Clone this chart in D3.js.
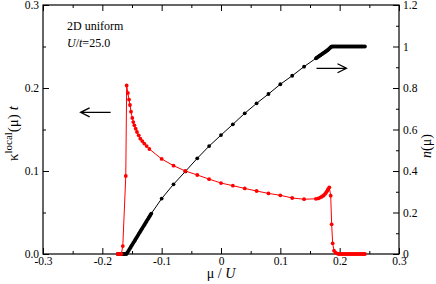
<!DOCTYPE html>
<html>
<head>
<meta charset="utf-8">
<script src="https://cdn.jsdelivr.net/npm/d3@7"></script>
<style>
    body { margin: 0; background: #fff; }
    #chart-area { width: 436px; height: 284px; }
    svg text { font-family: "Liberation Serif", "DejaVu Serif", serif; fill: #000; }
    .axis path { display: none; }
    .axis line { stroke: #000; }
</style>
</head>
<body>
<div id="chart-area"></div>
<script>

// local compressibility kappa(mu) t  (left axis)
const muKappa = [-0.174, -0.172, -0.170, -0.168, -0.1655, -0.1605, -0.159, -0.157, -0.155, -0.1534,
    -0.1517, -0.1495, -0.1478, -0.146, -0.1438, -0.1416, -0.1387, -0.136, -0.1327, -0.1293,
    -0.1253, -0.1208, -0.10, -0.08, -0.06, -0.04, -0.02, 0.0, 0.02, 0.04,
    0.06, 0.08, 0.10, 0.12, 0.14, 0.16, 0.164, 0.167, 0.1697, 0.172,
    0.1736, 0.1755, 0.177, 0.1785, 0.1798, 0.181, 0.1826, 0.1849, 0.1865, 0.1882,
    0.1905, 0.193, 0.196, 0.1985, 0.201, 0.2035, 0.206, 0.2085, 0.211, 0.2135,
    0.216, 0.2185, 0.221, 0.2235, 0.226, 0.2285, 0.231, 0.2335, 0.236, 0.2385,
    0.241, 0.2425];
const kappaVals = [0, 0, 0, 0, 0.0096, 0.094, 0.203, 0.194, 0.186, 0.1795,
    0.1715, 0.164, 0.159, 0.155, 0.151, 0.147, 0.143, 0.139, 0.136, 0.133,
    0.130, 0.1265, 0.1145, 0.1064, 0.100, 0.0952, 0.0902, 0.0855, 0.0823, 0.079,
    0.0759, 0.073, 0.0707, 0.0675, 0.066, 0.0665, 0.067, 0.068, 0.069, 0.070,
    0.071, 0.0725, 0.0739, 0.0755, 0.077, 0.0785, 0.0803, 0.0703, 0.0357, 0.0129,
    0.004, 0.0016, 0.0005, 0, 0, 0, 0, 0, 0, 0,
    0, 0, 0, 0, 0, 0, 0, 0, 0, 0,
    0, 0];

// density n(mu)  (right axis)
const muDensity = [-0.174, -0.172, -0.170, -0.168, -0.166, -0.164, -0.162,
    -0.1595, -0.158, -0.1565, -0.155, -0.1535, -0.152, -0.1505, -0.149, -0.1475, -0.146,
    -0.1445, -0.143, -0.1415, -0.140, -0.1385, -0.137, -0.1355, -0.134, -0.1325, -0.131,
    -0.1295, -0.128, -0.1265, -0.125, -0.1235, -0.122, -0.1205, -0.119, -0.1175,
    -0.10, -0.08, -0.06, -0.04, -0.02, 0.0, 0.02, 0.04, 0.06, 0.08, 0.10, 0.12, 0.14,
    0.16, 0.1615, 0.163, 0.1645, 0.166, 0.1675, 0.169, 0.1705, 0.172, 0.1735,
    0.175, 0.1765, 0.178, 0.1795, 0.181, 0.1825, 0.184, 0.1855, 0.187,
    0.1895, 0.192, 0.1945, 0.197, 0.1995, 0.202, 0.2045, 0.207, 0.2095, 0.212, 0.2145,
    0.217, 0.2195, 0.222, 0.2245, 0.227, 0.2295, 0.232, 0.2345, 0.237, 0.2395, 0.2425];
const densityVals = [0, 0, 0, 0, 0, 0, 0,
    0.000, 0.006, 0.013, 0.020, 0.027, 0.034, 0.041, 0.048, 0.055, 0.062,
    0.069, 0.076, 0.083, 0.090, 0.097, 0.104, 0.111, 0.118, 0.125, 0.132,
    0.139, 0.146, 0.153, 0.160, 0.167, 0.174, 0.181, 0.188, 0.195,
    0.267, 0.336, 0.398, 0.461, 0.520, 0.573, 0.625, 0.678, 0.726, 0.771, 0.818, 0.859, 0.903,
    0.943, 0.946, 0.949, 0.952, 0.955, 0.958, 0.961, 0.964, 0.967, 0.970,
    0.973, 0.976, 0.979, 0.982, 0.986, 0.990, 0.994, 0.998, 1.0,
    1.0, 1.0, 1.0, 1.0, 1.0, 1.0, 1.0, 1.0, 1.0, 1.0, 1.0,
    1.0, 1.0, 1.0, 1.0, 1.0, 1.0, 1.0, 1.0, 1.0, 1.0, 1.0];

const xTicks = [-0.3, -0.2, -0.1, 0, 0.1, 0.2, 0.3];
const xMinorTicks = [-0.25, -0.15, -0.05, 0.05, 0.15, 0.25];
const leftTicks = [0, 0.1, 0.2, 0.3];
const leftMinorTicks = [0.05, 0.15, 0.25];
const rightTicks = [0, 0.2, 0.4, 0.6, 0.8, 1, 1.2];
const rightMinorTicks = [0.1, 0.3, 0.5, 0.7, 0.9, 1.1];

const infoLines = ["2D uniform", "U/t=25.0"];
// arrows: [mu start, mu end, value on its axis]
const arrowLeft = [-0.186, -0.2366, 0.1707];
const arrowRight = [0.161, 0.2115, 0.895];


class LocalKappaVis {

    constructor(parentElement) {
        this.parentElement = parentElement;
        this.kappaData = muKappa.map((m, i) => ({mu: m, v: kappaVals[i]}));
        this.densityData = muDensity.map((m, i) => ({mu: m, v: densityVals[i]}));

        this.initVis();
    }

    initVis() {
        let vis = this;

        vis.margin = {top: 5, right: 37, bottom: 30, left: 43};
        vis.width = 436 - vis.margin.left - vis.margin.right;
        vis.height = 284 - vis.margin.top - vis.margin.bottom;

        vis.svg = d3.select("#" + vis.parentElement).append("svg")
            .attr("width", 436)
            .attr("height", 284)
            .append("g")
            .attr("transform", `translate(${vis.margin.left}, ${vis.margin.top})`);

        // Scales
        vis.x = d3.scaleLinear().domain([-0.3, 0.3]).range([0, vis.width]);
        vis.yLeft = d3.scaleLinear().domain([0, 0.3]).range([vis.height, 0]);
        vis.yRight = d3.scaleLinear().domain([0, 1.2]).range([vis.height, 0]);

        let fmt = d => String(+d.toFixed(1));

        // minor ticks
        vis.svg.append("g").attr("class", "axis")
            .attr("transform", `translate(0, ${vis.height})`)
            .call(d3.axisBottom(vis.x).tickValues(xMinorTicks).tickSize(-3).tickFormat(""));
        vis.svg.append("g").attr("class", "axis")
            .call(d3.axisTop(vis.x).tickValues(xMinorTicks).tickSize(-3).tickFormat(""));
        vis.svg.append("g").attr("class", "axis")
            .call(d3.axisLeft(vis.yLeft).tickValues(leftMinorTicks).tickSize(-3).tickFormat(""));
        vis.svg.append("g").attr("class", "axis")
            .attr("transform", `translate(${vis.width}, 0)`)
            .call(d3.axisRight(vis.yRight).tickValues(rightMinorTicks).tickSize(-3).tickFormat(""));

        // major ticks + labels
        vis.svg.append("g").attr("class", "axis x-axis")
            .attr("transform", `translate(0, ${vis.height})`)
            .call(d3.axisBottom(vis.x).tickValues(xTicks).tickSize(-6).tickPadding(3).tickFormat(fmt));
        vis.svg.append("g").attr("class", "axis")
            .call(d3.axisTop(vis.x).tickValues(xTicks).tickSize(-6).tickFormat(""));
        vis.svg.append("g").attr("class", "axis y-axis")
            .call(d3.axisLeft(vis.yLeft).tickValues(leftTicks).tickSize(-6).tickPadding(4)
                .tickFormat(d3.format(".1f")));
        vis.svg.append("g").attr("class", "axis y-axis2")
            .attr("transform", `translate(${vis.width}, 0)`)
            .call(d3.axisRight(vis.yRight).tickValues(rightTicks).tickSize(-6).tickPadding(4).tickFormat(fmt));

        vis.svg.selectAll(".axis text")
            .style("font-family", "'Liberation Serif', 'DejaVu Serif', serif")
            .style("font-size", "11.5px");

        // frame
        vis.svg.append("rect")
            .attr("width", vis.width)
            .attr("height", vis.height)
            .attr("fill", "none")
            .attr("stroke", "black")
            .attr("stroke-width", 1.2);

        // axis titles
        vis.svg.append("text")
            .attr("x", vis.x(0))
            .attr("y", vis.height + 24)
            .attr("text-anchor", "middle")
            .style("font-size", "14px")
            .html('μ / <tspan font-style="italic">U</tspan>');

        vis.svg.append("text")
            .attr("transform", `translate(${18 - vis.margin.left}, ${vis.yLeft(0.145)}) rotate(-90)`)
            .attr("text-anchor", "middle")
            .style("font-size", "15px")
            .html('κ<tspan dy="-6" font-size="11px">local</tspan><tspan dy="6">(μ) </tspan><tspan font-style="italic">t</tspan>');

        vis.svg.append("text")
            .attr("transform", `translate(${vis.width + 32}, ${vis.yRight(0.52)}) rotate(-90)`)
            .attr("text-anchor", "middle")
            .style("font-size", "14px")
            .html('<tspan font-style="italic">n</tspan>(μ)');

        // info text
        vis.svg.append("text")
            .attr("x", 24)
            .attr("y", 25)
            .style("font-size", "12px")
            .text(infoLines[0]);
        vis.svg.append("text")
            .attr("x", 24)
            .attr("y", 42)
            .style("font-size", "12px")
            .html('<tspan font-style="italic">U</tspan>/<tspan font-style="italic">t</tspan>=25.0');

        vis.updateVis();
    }

    updateVis() {
        let vis = this;

        vis.kappaLine = d3.line()
            .x(d => vis.x(d.mu))
            .y(d => vis.yLeft(d.v));

        vis.densityLine = d3.line()
            .x(d => vis.x(d.mu))
            .y(d => vis.yRight(d.v));

        vis.svg.append("path")
            .datum(vis.densityData)
            .attr("d", vis.densityLine)
            .attr("fill", "none")
            .attr("stroke", "black")
            .attr("stroke-width", 1);

        vis.svg.selectAll(".ndot")
            .data(vis.densityData)
            .enter()
            .append("circle")
            .attr("class", "ndot")
            .attr("cx", d => vis.x(d.mu))
            .attr("cy", d => vis.yRight(d.v))
            .attr("r", 1.9)
            .attr("fill", "black");

        vis.svg.append("path")
            .datum(vis.kappaData)
            .attr("d", vis.kappaLine)
            .attr("fill", "none")
            .attr("stroke", "#ff0000")
            .attr("stroke-width", 1);

        vis.svg.selectAll(".kdot")
            .data(vis.kappaData)
            .enter()
            .append("circle")
            .attr("class", "kdot")
            .attr("cx", d => vis.x(d.mu))
            .attr("cy", d => vis.yLeft(d.v))
            .attr("r", 1.9)
            .attr("fill", "#ff0000");

        // arrows pointing to the axis each curve belongs to
        vis.drawArrow(vis.x(arrowLeft[0]), vis.x(arrowLeft[1]), vis.yLeft(arrowLeft[2]));
        vis.drawArrow(vis.x(arrowRight[0]), vis.x(arrowRight[1]), vis.yRight(arrowRight[2]));
    }

    drawArrow(x0, x1, y) {
        let vis = this;
        let dir = Math.sign(x1 - x0);
        vis.svg.append("path")
            .attr("d", `M${x0},${y}H${x1}M${x1 - dir * 9},${y - 4.5}L${x1},${y}L${x1 - dir * 9},${y + 4.5}`)
            .attr("fill", "none")
            .attr("stroke", "black")
            .attr("stroke-width", 1.3);
    }
}

new LocalKappaVis("chart-area");

</script>
</body>
</html>
